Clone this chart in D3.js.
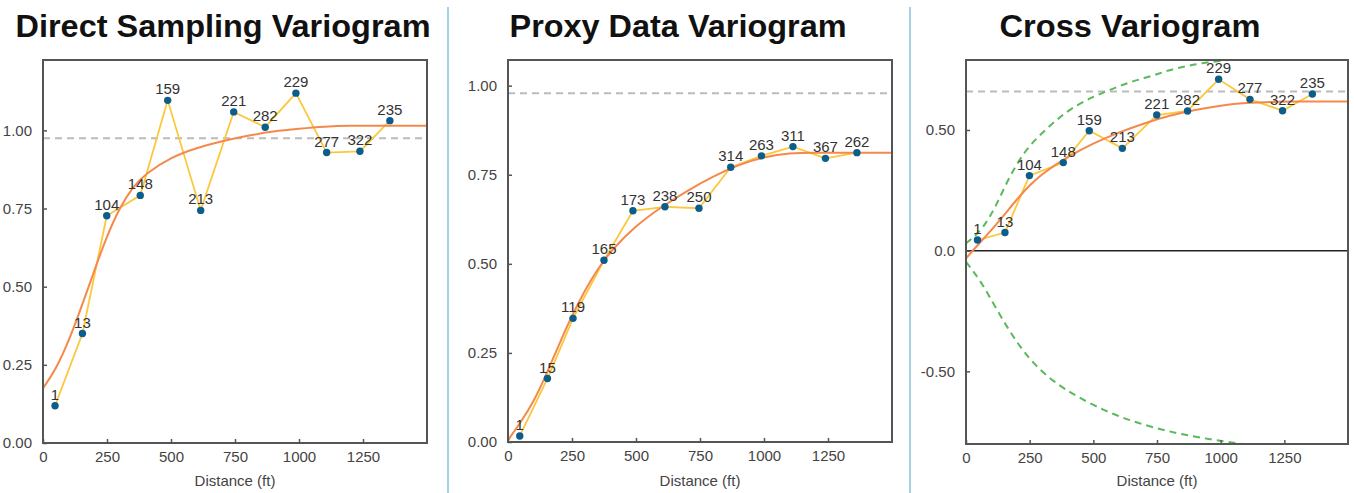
<!DOCTYPE html>
<html>
<head>
<meta charset="utf-8">
<script src="https://cdn.jsdelivr.net/npm/d3@7"></script>
<style>
  body { margin: 0; background: #fff; }
  svg { display: block; font-family: "Liberation Sans", Arial, Helvetica, sans-serif; }
  .tick text { fill: #444; font-size: 15px; }
  .tick line { stroke: #555; stroke-width: 1.5; }
</style>
</head>
<body>
<div id="vis"></div>
<script>
// experimental variogram points (lag distance, gamma, number of pairs)
var direct_dist = [47, 154, 249, 380, 487, 616, 745, 868, 988, 1108, 1238, 1355];
var direct_gamma = [0.119, 0.350, 0.727, 0.792, 1.096, 0.744, 1.059, 1.010, 1.119, 0.929, 0.933, 1.031];
var direct_pairs = [1, 13, 104, 148, 159, 213, 221, 282, 229, 277, 322, 235];

var proxy_dist = [46, 154, 254, 375, 488, 613, 746, 870, 990, 1113, 1240, 1363];
var proxy_gamma = [0.017, 0.178, 0.347, 0.510, 0.649, 0.660, 0.656, 0.771, 0.803, 0.829, 0.796, 0.812];
var proxy_pairs = [1, 15, 119, 165, 173, 238, 250, 314, 263, 311, 367, 262];

var cross_dist = [45, 153, 249, 382, 484, 614, 749, 870, 992, 1115, 1243, 1360];
var cross_gamma = [0.044, 0.075, 0.311, 0.365, 0.497, 0.424, 0.562, 0.579, 0.710, 0.627, 0.580, 0.649];
var cross_pairs = [1, 13, 104, 148, 159, 213, 221, 282, 229, 277, 322, 235];

// fitted model curves
var model_dist = [0, 50, 100, 150, 200, 250, 300, 350, 400, 500, 600, 700, 800, 900, 1000, 1100, 1200, 1300, 1500];
var direct_model = [0.175, 0.235, 0.325, 0.434, 0.551, 0.663, 0.754, 0.818, 0.861, 0.914, 0.944, 0.966, 0.983, 0.997, 1.005, 1.012, 1.015, 1.015, 1.015];
var proxy_model = [0.005, 0.056, 0.112, 0.19, 0.275, 0.355, 0.426, 0.485, 0.535, 0.608, 0.66, 0.705, 0.745, 0.778, 0.80, 0.811, 0.812, 0.812, 0.812];
var cross_model = [-0.032, 0.028, 0.085, 0.148, 0.213, 0.272, 0.318, 0.355, 0.389, 0.445, 0.49, 0.528, 0.56, 0.584, 0.602, 0.613, 0.617, 0.618, 0.618];

// cross variogram envelope (green dashed)
var upper_dist = [0, 16, 68, 120, 173, 238, 304, 369, 435, 500, 565, 631, 696, 762, 807, 938, 1082, 1200];
var upper_val = [0.03, 0.044, 0.093, 0.189, 0.314, 0.424, 0.493, 0.555, 0.604, 0.638, 0.666, 0.694, 0.714, 0.735, 0.752, 0.781, 0.795, 0.80];
var lower_dist = [0, 55, 107, 160, 212, 264, 343, 435, 565, 696, 827, 958, 1063, 1150];
var lower_val = [-0.046, -0.121, -0.218, -0.315, -0.398, -0.467, -0.543, -0.605, -0.674, -0.722, -0.757, -0.782, -0.798, -0.81];

// sills (gray dashed)
var direct_sill = 0.975;
var proxy_sill = 0.979;
var cross_sill = 0.659;

var x_ticks = [0, 250, 500, 750, 1000, 1250];
var direct_yticks = [0, 0.25, 0.5, 0.75, 1.0];
var direct_ylabels = ['0.00', '0.25', '0.50', '0.75', '1.00'];
var proxy_yticks = [0, 0.25, 0.5, 0.75, 1.0];
var proxy_ylabels = ['0.00', '0.25', '0.50', '0.75', '1.00'];
var cross_yticks = [-0.5, 0, 0.5];
var cross_ylabels = ['-0.50', '0.0', '0.50'];

var titles = ['Direct Sampling Variogram', 'Proxy Data Variogram', 'Cross Variogram'];

var W = 1354, H = 493;
var svg = d3.select('#vis').append('svg').attr('width', W).attr('height', H);

// panel separators
[448, 910].forEach(function(x) {
	svg.append('line').attr('x1', x).attr('x2', x).attr('y1', 7).attr('y2', H)
		.attr('stroke', '#a3d2e4').attr('stroke-width', 2);
});

var panels = [
	{ title: titles[0], tx: 223, tlen: 415, left: 43, right: 427, top: 60, bottom: 443, ydom: [0, 1.225],
	  dist: direct_dist, gamma: direct_gamma, pairs: direct_pairs, model: direct_model, sill: direct_sill,
	  yticks: direct_yticks, ylabels: direct_ylabels },
	{ title: titles[1], tx: 678, tlen: 337, left: 508, right: 892, top: 60, bottom: 442, ydom: [0, 1.072],
	  dist: proxy_dist, gamma: proxy_gamma, pairs: proxy_pairs, model: proxy_model, sill: proxy_sill,
	  yticks: proxy_yticks, ylabels: proxy_ylabels },
	{ title: titles[2], tx: 1130, tlen: 261, left: 966, right: 1348, top: 60, bottom: 444, ydom: [-0.801, 0.79],
	  dist: cross_dist, gamma: cross_gamma, pairs: cross_pairs, model: cross_model, sill: cross_sill,
	  yticks: cross_yticks, ylabels: cross_ylabels, envelope: true }
];

panels.forEach(function(p, i) {
	var x_scale = d3.scaleLinear().domain([0, 1500]).range([p.left, p.right]);
	var y_scale = d3.scaleLinear().domain(p.ydom).range([p.bottom, p.top]);

	svg.append('text').attr('x', p.tx).attr('y', 37).attr('text-anchor', 'middle')
		.attr('font-size', 31).attr('font-weight', 'bold').attr('fill', '#111')
		.attr('textLength', p.tlen).attr('lengthAdjust', 'spacingAndGlyphs')
		.text(p.title);

	var clip_id = 'clip' + i;
	svg.append('clipPath').attr('id', clip_id).append('rect')
		.attr('x', p.left).attr('y', p.top).attr('width', p.right - p.left).attr('height', p.bottom - p.top);

	var g = svg.append('g').attr('clip-path', 'url(#' + clip_id + ')');

	g.append('line').attr('x1', p.left).attr('x2', p.right)
		.attr('y1', y_scale(p.sill)).attr('y2', y_scale(p.sill))
		.attr('stroke', '#bbb').attr('stroke-width', 2).attr('stroke-dasharray', '7,5');

	if (p.ydom[0] < 0) {
		g.append('line').attr('x1', p.left).attr('x2', p.right)
			.attr('y1', y_scale(0)).attr('y2', y_scale(0))
			.attr('stroke', '#222').attr('stroke-width', 1.5);
	}

	var smooth = d3.line().x(function(d) { return x_scale(d[0]); })
		.y(function(d) { return y_scale(d[1]); }).curve(d3.curveBasis);

	if (p.envelope) {
		[[upper_dist, upper_val], [lower_dist, lower_val]].forEach(function(e) {
			g.append('path').datum(d3.zip(e[0], e[1])).attr('d', smooth)
				.attr('fill', 'none').attr('stroke', '#5cb85c').attr('stroke-width', 2)
				.attr('stroke-dasharray', '7,5');
		});
	}

	var pts = p.dist.map(function(d, k) { return { x: d, y: p.gamma[k], n: p.pairs[k] }; });

	g.append('path').datum(pts)
		.attr('d', d3.line().x(function(d) { return x_scale(d.x); }).y(function(d) { return y_scale(d.y); }))
		.attr('fill', 'none').attr('stroke', '#fdc73c').attr('stroke-width', 1.8);

	g.append('path').datum(d3.zip(model_dist, p.model)).attr('d', smooth)
		.attr('fill', 'none').attr('stroke', '#f5894c').attr('stroke-width', 2);

	g.selectAll('.pt').data(pts).enter().append('circle').attr('class', 'pt')
		.attr('cx', function(d) { return x_scale(d.x); })
		.attr('cy', function(d) { return y_scale(d.y); })
		.attr('r', 3.7).attr('fill', '#0b5e8c');

	svg.selectAll('.lbl' + i).data(pts).enter().append('text').attr('class', 'lbl' + i)
		.attr('x', function(d) { return x_scale(d.x); })
		.attr('y', function(d) { return y_scale(d.y) - 6; })
		.attr('text-anchor', 'middle').attr('font-size', 15).attr('fill', '#333')
		.text(function(d) { return d.n; });

	// axes
	var y_axis = d3.axisLeft(y_scale).tickValues(p.yticks).tickSize(-4).tickPadding(11)
		.tickFormat(function(d, k) { return p.ylabels[k]; });
	var x_axis = d3.axisBottom(x_scale).tickValues(x_ticks).tickSize(-4).tickPadding(8)
		.tickFormat(d3.format('d'));
	svg.append('g').attr('class', 'y axis').attr('transform', 'translate(' + p.left + ',0)').call(y_axis)
		.call(function(a) { a.select('.domain').remove(); a.selectAll('text').attr('font-size', null); });
	svg.append('g').attr('class', 'x axis').attr('transform', 'translate(0,' + p.bottom + ')').call(x_axis)
		.call(function(a) { a.select('.domain').remove(); a.selectAll('text').attr('font-size', null); });

	svg.append('rect').attr('x', p.left).attr('y', p.top)
		.attr('width', p.right - p.left).attr('height', p.bottom - p.top)
		.attr('fill', 'none').attr('stroke', '#555').attr('stroke-width', 2);

	svg.append('text').attr('x', (p.left + p.right) / 2).attr('y', 486)
		.attr('text-anchor', 'middle').attr('font-size', 15).attr('fill', '#444')
		.text('Distance (ft)');
});
</script>
</body>
</html>
